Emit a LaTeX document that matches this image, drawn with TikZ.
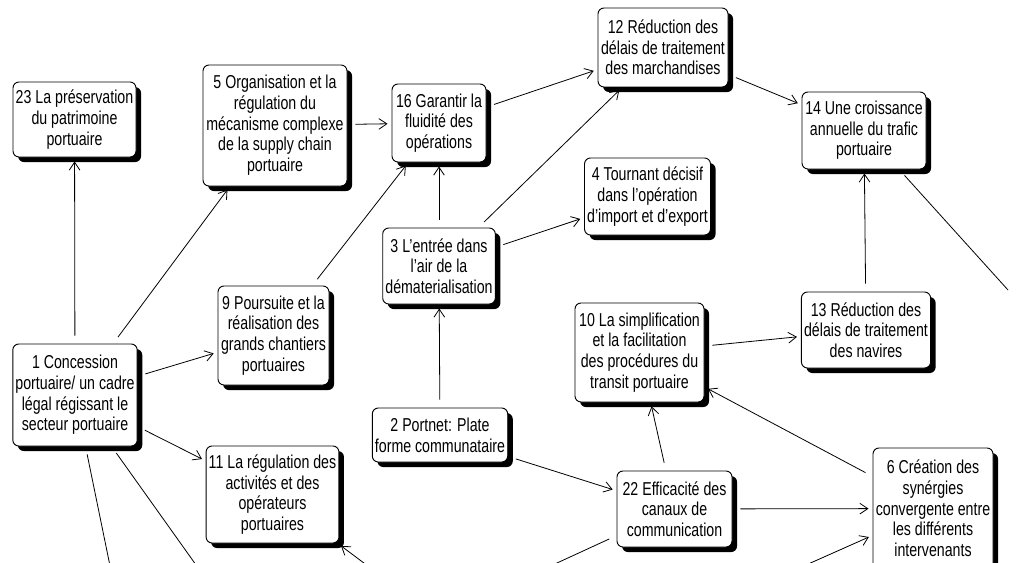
\documentclass[tikz,border=0pt]{standalone}
\usepackage{fontspec}
\setmainfont[FakeStretch=0.76]{Liberation Sans}
\usepackage{tikz}
\usetikzlibrary{arrows.meta,shadows}
\definecolor{bg}{HTML}{FFFFFF}
\definecolor{ink}{HTML}{000000}
\tikzset{
  box/.style={draw=ink, fill=bg, line width=0.7pt, rounded corners=4.5pt, align=center,
    inner sep=2pt, font=\fontsize{14}{15.5}\selectfont,
    drop shadow={shadow xshift=3.8pt, shadow yshift=-3.8pt, fill=ink, opacity=1}},
  mw/.style={minimum width=#1*0.75pt},
  mh/.style={minimum height=#1*0.75pt},
  lnk/.style={draw=ink, line width=0.6pt, -{Straight Barb[length=6pt,width=8pt]},
    shorten >=3pt, shorten <=6pt},
  bare/.style={draw=ink, line width=0.6pt, shorten <=6pt}
}
\begin{document}
\begin{tikzpicture}[x=0.75pt,y=-0.75pt]
  \path[use as bounding box, clip] (0,0) rectangle (1016,563);
  \fill[bg] (0,0) rectangle (1016,563);
  % boxes
  \node[box,mw=123,mh=75]  (n23) at (74.5,119.5) {23 La préservation\\du patrimoine\\portuaire};
  \node[box,mw=144,mh=121] (n5)  at (275,125.5)  {5 Organisation et la\\régulation du\\mécanisme complexe\\de la supply chain\\portuaire};
  \node[box,mw=94,mh=78]   (n16) at (439,123)    {16 Garantir la\\fluidité des\\opérations};
  \node[box,mw=130,mh=79]  (n12) at (663,47.5)   {12 Réduction des\\délais de traitement\\des marchandises};
  \node[box,mw=121,mh=77]  (n4)  at (647.5,196.5) {4 Tournant décisif\\dans l'opération\\d'import et d'export};
  \node[box,mw=108,mh=76]  (n3)  at (439,266)    {3 L'entrée dans\\l'air de la\\dématerialisation};
  \node[box,mw=124,mh=77]  (n14) at (864,130.5)  {14 Une croissance\\annuelle du trafic\\portuaire};
  \node[box,mw=111,mh=99]  (n9)  at (273.5,335.5) {9 Poursuite et la\\réalisation des\\grands chantiers\\portuaires};
  \node[box,mw=124,mh=102] (n1)  at (75,395)     {1 Concession\\portuaire/ un cadre\\légal régissant le\\secteur portuaire};
  \node[box,mw=131,mh=97]  (n11) at (272.5,494.5) {11 La régulation des\\activités et des\\opérateurs\\portuaires};
  \node[box,mw=132,mh=54]  (n2)  at (440,435)    {2 Portnet: Plate\\forme communataire};
  \node[box,mw=129,mh=99]  (n10) at (639.5,352.5) {10 La simplification\\et la facilitation\\des procédures du\\transit portuaire};
  \node[box,mw=115,mh=76]  (n22) at (674.5,509)  {22 Efficacité des\\canaux de\\communication};
  \node[box,mw=128,mh=76]  (n13) at (866,330)    {13 Réduction des\\délais de traitement\\des navires};
  \node[box,mw=120,mh=121] (n6)  at (933,508.5)  {6 Création des\\synérgies\\convergente entre\\les différents\\intervenants};
  % free ends outside the frame
  \coordinate (o1) at (117,600);
  \coordinate (o2) at (221,600);
  \coordinate (o3) at (400,590);
  \coordinate (o4) at (520,580);
  \coordinate (o5) at (770,581);
  \coordinate (o6) at (1008,290);
  % links
  \draw[lnk] (n1) -- (n23);
  \draw[lnk] (n1) -- (n5);
  \draw[lnk] (n1) -- (n9);
  \draw[lnk] (n1) -- (n11);
  \draw[bare] (n1) -- (o1);
  \draw[bare] (n1) -- (o2);
  \draw[lnk,shorten <=0pt] (o3) -- (n11);
  \draw[lnk] (n5) -- (n16);
  \draw[lnk] (n9) -- (n16);
  \draw[lnk] (n3) -- (n16);
  \draw[lnk] (n16) -- (n12);
  \draw[lnk] (n3) -- (n12);
  \draw[lnk] (n3) -- (n4);
  \draw[lnk] (n12) -- (n14);
  \draw[lnk] (n13) -- (n14);
  \draw[bare] (n14) -- (o6);
  \draw[lnk] (n2) -- (n3);
  \draw[lnk] (n2) -- (n22);
  \draw[lnk] (n22) -- (n10);
  \draw[lnk] (n10) -- (n13);
  \draw[lnk] (n6) -- (n10);
  \draw[lnk] (n22) -- (n6);
  \draw[bare] (n22) -- (o4);
  \draw[lnk,shorten <=0pt] (o5) -- (n6);
\end{tikzpicture}
\end{document}
